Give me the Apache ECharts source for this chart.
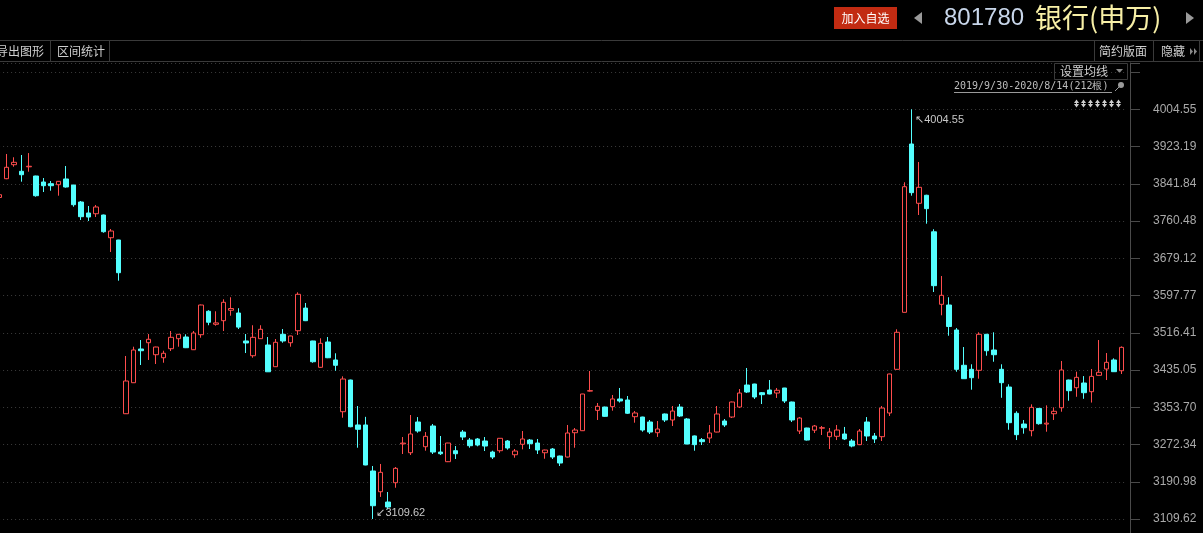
<!DOCTYPE html>
<html><head><meta charset="utf-8">
<script src="https://cdn.jsdelivr.net/npm/echarts@6/dist/echarts.min.js"></script>
<style>html,body{margin:0;padding:0;background:#000;overflow:hidden}#c{width:1203px;height:533px;}</style>
</head><body><div id="c"></div>
<script>
// ---- data ----
const opens = [3812,3853.0,3883.6,3869.2,3879.0,3858.9,3845.8,3842.1,3839.9,3852.4,3839.2,3802.1,3778.1,3776.5,3773.7,3724.1,3719.1,
3339.6,3407.3,3481.0,3494.7,3468.5,3461.9,3481.6,3503.5,3507.2,3479.4,3512.2,3563.4,3535.0,3542.8,3565.7,3559.6,3498.5,3466.3,3503.5,3489.7,
3442.3,3513.1,3494.7,3520.9,3570.4,3498.5,3441.0,3496.3,3457.0,3344.0,3413.2,3315.0,3315.0,3214.5,3169.2,3146.7,3188.9,3273.8,3254.4,3321.5,
3267.5,3312.8,3255.9,3234.8,3258.8,3299.6,3282.1,3284.4,3280.0,3255.9,3258.8,3280.0,3250.0,3272.8,3282.1,3275.6,3254.4,3262.5,3247.2,3245.0,
3298.1,3302.5,3389.0,3347.0,3354.2,3355.1,3371.8,3369.6,3333.1,3332.4,3321.5,3298.1,3339.0,3325.9,3354.2,3328.1,3291.1,3282.9,3286.5,3299.6,
3323.7,3332.4,3354.2,3402.3,3404.5,3385.5,3391.4,3384.8,3395.8,3365.2,3301.8,3308.4,3303.6,3308.0,3289.4,3290.3,3295.3,3280.0,3272.0,3321.5,
3290.9,3289.4,3341.2,3436.6,3561.1,3928.8,3799.3,3816.8,3737.0,3578.6,3577.1,3522.5,3445.4,3436.6,3434.4,3513.1,3478.8,3436.6,3397.9,3340.5,
3317.1,3302.5,3351.2,3317.0,3339.6,3352.7,3413.2,3396.4,3406.7,3387.7,3423.5,3437.3,3457.0,3433.5];
const closes = [3818,3877.9,3888.8,3861.7,3880.2,3815.9,3837.7,3837.7,3847.3,3834.9,3796.2,3770.0,3769.3,3791.2,3737.2,3738.7,3647.6,
3411.1,3478.8,3477.2,3502.2,3485.3,3471.6,3506.5,3513.1,3483.8,3515.9,3577.1,3539.4,3538.0,3583.0,3569.4,3528.8,3494.1,3506.5,3524.0,3431.2,
3495.6,3498.5,3509.4,3600.5,3542.8,3453.2,3493.4,3461.9,3445.4,3415.4,3311.2,3305.6,3227.6,3138.6,3211.6,3135.8,3220.3,3275.5,3295.3,3301.8,
3290.2,3255.9,3252.2,3275.6,3252.2,3288.7,3269.7,3271.2,3269.0,3245.0,3285.9,3264.7,3258.1,3284.4,3274.1,3260.3,3260.3,3245.0,3231.9,3297.5,
3304.0,3382.7,3390.0,3355.8,3333.9,3371.8,3367.4,3340.6,3341.2,3304.0,3299.6,3306.2,3325.9,3345.5,3334.6,3273.4,3272.0,3278.5,3297.5,3339.0,
3315.0,3365.2,3384.8,3387.0,3376.1,3381.2,3382.7,3390.8,3367.4,3325.9,3330.2,3282.1,3312.8,3309.0,3299.6,3304.0,3284.4,3269.0,3301.8,3290.9,
3284.4,3352.0,3426.4,3517.5,3835.5,3822.5,3834.2,3787.6,3619.3,3598.3,3530.1,3436.6,3416.1,3418.3,3513.1,3477.2,3468.5,3407.4,3320.0,3293.8,
3309.0,3353.5,3317.8,3319.0,3344.9,3435.1,3389.9,3419.1,3385.5,3421.2,3430.1,3451.9,3431.4,3484.6];
const lows = [3809,3852.0,3879.2,3846.5,3868.3,3813.7,3823.9,3826.8,3815.9,3833.4,3791.8,3762.8,3760.6,3769.3,3735.0,3692.9,3630.2,
3339.0,3407.0,3446.0,3457.0,3448.2,3451.0,3476.6,3486.0,3483.0,3479.0,3505.6,3532.9,3531.9,3520.3,3553.7,3524.6,3472.2,3461.9,3503.0,3431.0,
3442.0,3494.7,3486.0,3511.6,3542.0,3451.0,3440.0,3461.0,3433.4,3330.9,3310.0,3265.3,3227.0,3109.62,3157.9,3130.6,3177.9,3251.6,3249.4,3298.1,
3258.8,3251.6,3249.4,3234.0,3240.7,3282.1,3265.3,3268.4,3258.1,3240.7,3254.4,3261.0,3243.5,3261.8,3262.5,3251.6,3241.3,3240.7,3225.4,3244.0,
3265.3,3302.0,3388.0,3325.9,3333.0,3346.2,3364.0,3339.0,3320.0,3300.3,3295.3,3288.9,3321.5,3312.8,3332.4,3273.0,3258.8,3271.2,3275.6,3299.0,
3310.7,3330.2,3352.0,3384.8,3371.8,3360.8,3382.0,3374.0,3363.0,3321.5,3295.3,3281.0,3297.5,3293.1,3262.5,3282.1,3282.1,3266.2,3271.0,3280.0,
3275.6,3280.0,3334.6,3436.0,3561.0,3815.9,3773.7,3754.7,3605.5,3554.6,3510.0,3431.3,3416.0,3392.1,3416.1,3466.3,3453.2,3374.4,3304.6,3282.1,
3296.0,3290.3,3315.6,3300.3,3325.9,3344.0,3368.0,3376.6,3372.2,3364.0,3423.0,3413.2,3431.0,3426.4];
const highs = [3821,3907.0,3899.8,3904.8,3909.0,3859.5,3854.5,3848.0,3848.0,3880.7,3839.5,3804.3,3793.4,3795.6,3774.5,3743.1,3719.5,
3465.7,3486.0,3500.6,3513.7,3486.0,3477.2,3520.3,3513.5,3513.1,3520.3,3578.0,3565.7,3563.4,3589.6,3594.0,3570.1,3513.7,3532.9,3532.9,3507.2,
3502.8,3524.6,3510.0,3604.8,3581.5,3499.0,3504.4,3507.2,3471.6,3421.3,3414.0,3356.4,3332.8,3225.4,3229.8,3168.6,3223.2,3288.7,3336.8,3332.3,
3299.6,3317.1,3290.9,3276.0,3269.0,3304.0,3286.5,3286.5,3288.7,3258.8,3286.0,3282.1,3262.5,3301.8,3284.4,3284.4,3261.0,3264.7,3248.0,3315.0,
3308.4,3383.0,3432.9,3363.0,3355.0,3380.5,3395.8,3378.3,3345.5,3333.0,3325.9,3323.7,3340.0,3356.4,3360.8,3330.2,3292.0,3286.5,3315.0,3356.4,
3328.1,3366.0,3393.6,3439.5,3405.0,3387.0,3413.2,3395.8,3396.0,3366.0,3332.4,3309.0,3315.0,3312.8,3308.4,3315.0,3310.7,3284.4,3306.2,3332.3,
3297.5,3356.4,3427.0,3524.0,3845.2,4004.55,3889.5,3818.0,3742.6,3640.4,3594.0,3526.8,3485.3,3447.6,3517.5,3514.0,3517.5,3447.6,3403.9,3344.9,
3325.9,3360.1,3352.0,3357.9,3353.5,3454.8,3414.0,3431.4,3421.8,3437.3,3500.6,3472.2,3460.6,3486.7];
const categories = opens.map((_, i) => 'K' + (i + 1));
const tickLabels = ['3109.62','3190.98','3272.34','3353.70','3435.05','3516.41','3597.77','3679.12','3760.48','3841.84','3923.19','4004.55'];
const tickStep = 81.35727;
const axisMin = 3109.62 - tickStep;
const axisMax = 4105.76;

const kData = opens.map((o, i) => [o, closes[i], lows[i], highs[i]]);

// ---- UI decorations ----
const GRID = '#3a3a3a', UITXT = '#cfcfcf', CJK = '"Noto Sans CJK SC", sans-serif';
function ln(x1, y1, x2, y2, c) { return { type: 'line', silent: true, shape: { x1, y1, x2, y2 }, style: { stroke: c || GRID, lineWidth: 1 } }; }
function tx(x, y, t, font, color, align) { return { type: 'text', silent: true, x, y, style: { text: t, font, fill: color, align: align || 'left', verticalAlign: 'middle' } }; }
function poly(pts, c) { return { type: 'polygon', silent: true, shape: { points: pts }, style: { fill: c } }; }
const ui = [
  ln(0, 40.5, 1203, 40.5), ln(0, 61.5, 1203, 61.5),
  ln(50.5, 41, 50.5, 61), ln(109.5, 41, 109.5, 61),
  ln(1094.5, 41, 1094.5, 61), ln(1153.5, 41, 1153.5, 61), ln(1199.5, 41, 1199.5, 61),
  tx(-4, 51.5, '导出图形', '12px ' + CJK, UITXT),
  tx(57, 51.5, '区间统计', '12px ' + CJK, UITXT),
  tx(1099, 51.5, '简约版面', '12px ' + CJK, UITXT),
  tx(1161, 51.5, '隐藏', '12px ' + CJK, UITXT),
  poly([[1190, 48], [1190, 55], [1193, 51.5]], '#8a8a8a'),
  poly([[1194, 48], [1194, 55], [1197, 51.5]], '#8a8a8a'),
  { type: 'rect', silent: true, shape: { x: 834, y: 7, width: 63, height: 22 }, style: { fill: '#c22b12' } },
  tx(865.5, 18, '加入自选', '12px ' + CJK, '#ffffff', 'center'),
  poly([[922, 12], [922, 24], [914, 18]], '#9a9a9a'),
  tx(944, 18.5, '801780', '24px "Liberation Sans", Arial, sans-serif', '#c8d6ea'),
  tx(1035, 17.5, '银行(申万)', '27px ' + CJK, '#f7efa6'),
  poly([[1186, 12], [1186, 24], [1194, 18]], '#9a9a9a'),
  { type: 'rect', silent: true, shape: { x: 1054.5, y: 63.5, width: 73, height: 16 }, style: { fill: 'none', stroke: GRID } },
  tx(1060, 71.5, '设置均线', '12px ' + CJK, UITXT),
  poly([[1116, 69], [1123, 69], [1119.5, 73]], '#8a8a8a'),
  tx(954, 86, '2019/9/30-2020/8/14(212根)', '10px "DejaVu Sans Mono", monospace', '#bdbdbd'),
  ln(954, 92.5, 1112, 92.5, '#9a9a9a'),
  { type: 'circle', silent: true, shape: { cx: 1121, cy: 85, r: 3 }, style: { fill: '#9a9a9a' } },
  ln(1119, 87, 1115, 91, '#9a9a9a')
];
for (let i = 0; i < 7; i++) {
  const x = 1076.5 + i * 7;
  ui.push(poly([[x - 2.5, 103], [x + 2.5, 103], [x, 99.5]], '#cfcfcf'));
  ui.push(poly([[x - 2.5, 104], [x + 2.5, 104], [x, 107.5]], '#cfcfcf'));
  ui.push({ type: 'rect', silent: true, shape: { x: x - 0.5, y: 101, width: 1, height: 5 }, style: { fill: '#cfcfcf' } });
}

const chart = echarts.init(document.getElementById('c'), null, { renderer: 'canvas' });
chart.setOption({
  backgroundColor: '#000',
  animation: false,
  grid: { left: -4.92, right: 78, top: 63, bottom: -23.24, outerBoundsMode: 'none', containLabel: false },
  xAxis: {
    type: 'category', data: categories, boundaryGap: true,
    axisLine: { show: false }, axisTick: { show: false }, axisLabel: { show: false }, splitLine: { show: false }
  },
  yAxis: {
    type: 'value', position: 'right', offset: 5,
    min: axisMin, max: axisMax, interval: tickStep,
    axisLine: { show: true, lineStyle: { color: '#4a4a4a' } },
    axisTick: { show: true, length: 10, lineStyle: { color: '#4a4a4a' } },
    axisLabel: {
      color: '#a9a9a9', fontSize: 12, fontFamily: '"Liberation Sans", Arial, sans-serif', margin: 23,
      formatter: function (v) {
        for (const t of tickLabels) { if (Math.abs(parseFloat(t) - v) < 0.5) return t; }
        return '';
      }
    },
    splitLine: { show: true, lineStyle: { color: '#3c3c3c', type: [1, 3], width: 1 } }
  },
  series: [{
    type: 'candlestick',
    data: kData,
    barWidth: 5,
    itemStyle: { color: '#000', color0: '#54ffff', borderColor: '#ff4d4d', borderColor0: '#54ffff', borderWidth: 1 },
    markPoint: {
      symbol: 'circle', symbolSize: 1, itemStyle: { color: 'rgba(0,0,0,0)' },
      label: { color: '#c8c8c8', fontSize: 11, fontFamily: '"Liberation Sans", Arial, sans-serif' },
      data: [
        { type: 'max', valueDim: 'highest', label: { position: [4, 6], align: 'left', verticalAlign: 'top', formatter: p => '↖' + Number(p.value).toFixed(2) } },
        { type: 'min', valueDim: 'lowest', label: { position: [4, -11], align: 'left', verticalAlign: 'top', formatter: p => '↙' + Number(p.value).toFixed(2) } }
      ]
    }
  }],
  graphic: ui
});
</script>
</body></html>
